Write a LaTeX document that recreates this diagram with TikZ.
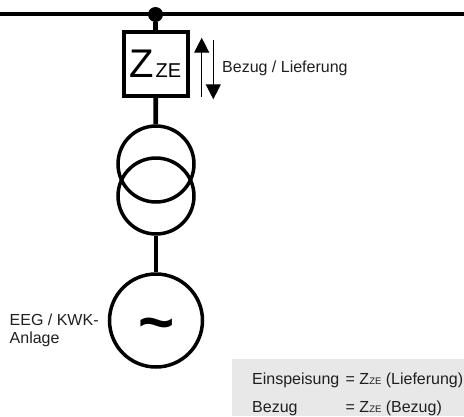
\documentclass[tikz,border=0pt]{standalone}
\usepackage{fontspec}
\setmainfont{Liberation Sans}
\usetikzlibrary{arrows.meta}
\newcommand{\zesub}{{\fontsize{9.5}{9.5}\selectfont ZE}}
\tikzset{
  wire/.style={line width=4.8pt},
  thinflow/.style={line width=1.3pt,-{Triangle[width=15pt,length=15pt]}},
  lbl/.style={inner sep=0pt,anchor=base west,font=\fontsize{16}{18}\selectfont,text=black!88},
  coil/.style={circle,draw,line width=3.5pt,minimum size=76pt,inner sep=0pt}
}
\begin{document}
\begin{tikzpicture}[x=1pt,y=-1pt]
\useasboundingbox (0,0) rectangle (464,416);
\fill[black!9] (232,359) rectangle (464,416);
\coordinate (busl) at (0,14);
\coordinate (busr) at (464,14);
\node[circle,fill,minimum size=15pt,inner sep=0pt] (dot) at (155.5,14.5) {};
\draw[wire] (busl) -- (busr);
\node[draw,line width=4pt,minimum size=64pt,inner sep=0pt] (meter) at (155.5,63.7) {};
\node[inner sep=0pt,anchor=base west,font=\fontsize{40}{40}\selectfont] (zbig) at (129,77.5) {Z};
\node[inner sep=0pt,anchor=base west,font=\fontsize{20}{20}\selectfont] (zsub) at (155.5,77.5) {ZE};
\node[coil] (trup) at (156,164) {};
\node[coil] (trdn) at (156,196) {};
\node[circle,draw,line width=3.5pt,minimum size=93pt,inner sep=0pt] (gen) at (156,320.5) {};
\node[inner sep=0pt,anchor=base,font=\bfseries\fontsize{62}{62}\selectfont] (wave) at (156.5,343) {\textasciitilde};
\draw[wire] (dot) -- (meter);
\draw[wire] (meter) -- (trup);
\draw[wire] (trdn) -- (gen);
\coordinate (upa) at (201.7,97);
\coordinate (upb) at (201.7,37.7);
\coordinate (dna) at (213.3,40);
\coordinate (dnb) at (213.3,99.3);
\draw[thinflow] (upa) -- (upb);
\draw[thinflow] (dna) -- (dnb);
\node[lbl] (flow) at (222,72) {Bezug / Lieferung};
\node[lbl] (eeg) at (9.5,325) {EEG / KWK-};
\node[lbl] (anl) at (9.5,343) {Anlage};
\node[lbl] (einsp) at (252,384) {Einspeisung};
\node[lbl] (einspz) at (345.5,384) {= Z\zesub{} (Lieferung)};
\node[lbl] (bez) at (252,412.5) {Bezug};
\node[lbl] (bezz) at (345.5,412.5) {= Z\zesub{} (Bezug)};
\end{tikzpicture}
\end{document}
